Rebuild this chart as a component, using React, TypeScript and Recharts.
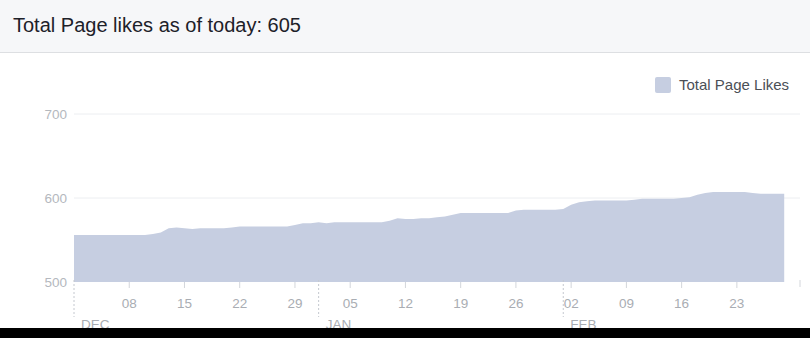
import React from 'react';
import { AreaChart, Area, XAxis, YAxis, CartesianGrid, Legend } from 'recharts';

// daily total page likes, Dec 1 .. Mar 1 (day 0 = Dec 1)
const likes = [
  556, 556, 556, 556, 556, 556, 556, 556, 556, 556,
  557, 559, 564, 565, 564, 563, 564, 564, 564, 564,
  565, 566, 566, 566, 566, 566, 566, 566, 568, 570,
  570, 571, 570, 571, 571, 571, 571, 571, 571, 571,
  573, 576, 575, 575, 576, 576, 577, 578, 580, 582,
  582, 582, 582, 582, 582, 582, 585, 586, 586, 586,
  586, 586, 587, 592, 595, 596, 597, 597, 597, 597,
  597, 598, 599, 599, 599, 599, 599, 600, 601, 604,
  606, 607, 607, 607, 607, 607, 606, 605, 605, 605,
  605,
];

const weekTickDays = [7, 14, 21, 28, 35, 42, 49, 56, 63, 70, 77, 84];
const weekTickLabels = ['08', '15', '22', '29', '05', '12', '19', '26', '02', '09', '16', '23'];
const monthStartDays = [0, 31, 62];
const monthLabels = ['DEC', 'JAN', 'FEB'];
const axisEndDay = 92;
const yTicks = [500, 600, 700];
const gridValues = [600, 700];

const seriesName = 'Total Page Likes';
const title = 'Total Page likes as of today: 605';

const FILL = '#c6cee1';
const FONT = '"Liberation Sans", Arial, sans-serif';

const data = likes.map((v, i) => ({ day: i, likes: v }));
const xTicks = [...monthStartDays, ...weekTickDays, axisEndDay].sort((a, b) => a - b);

const DateTick = (props: any) => {
  const { x, y, payload } = props;
  const day = payload.value;
  const m = monthStartDays.indexOf(day);
  if (m >= 0) {
    return (
      <g>
        <line x1={x} x2={x} y1={y - 2} y2={y + 35} stroke="#c4c8cf" strokeDasharray="2 2" />
        <text x={x + 7} y={y + 47} fill="#a9adb3" fontSize={13.5} fontFamily={FONT}>
          {monthLabels[m]}
        </text>
      </g>
    );
  }
  if (day === axisEndDay) {
    return <line x1={x} x2={x} y1={y - 2} y2={y + 5} stroke="#d3d6db" />;
  }
  const w = weekTickDays.indexOf(day);
  return (
    <g>
      <line x1={x} x2={x} y1={y} y2={y + 6} stroke="#d3d6db" />
      <text x={x} y={y + 26} textAnchor="middle" fill="#a9adb3" fontSize={13.5} fontFamily={FONT}>
        {weekTickLabels[w]}
      </text>
    </g>
  );
};

const LegendBox = () => (
  <div style={{ display: 'flex', alignItems: 'center', fontFamily: FONT, fontSize: 15, color: '#4b4f56' }}>
    <span style={{ display: 'inline-block', width: 16, height: 16, background: FILL, borderRadius: 2, marginRight: 8 }} />
    {seriesName}
  </div>
);

export default function App() {
  return (
    <div style={{ position: 'relative', width: 810, height: 338, overflow: 'hidden', background: '#fff' }}>
      <style>{'body{margin:0}'}</style>
      <div
        style={{
          position: 'absolute', top: 0, left: 0, width: 810, height: 52,
          background: '#f6f7f9', borderBottom: '1px solid #dddfe2',
        }}
      >
        <div style={{ position: 'absolute', top: 14, left: 13, fontFamily: FONT, fontSize: 20, color: '#1d2129', whiteSpace: 'nowrap' }}>
          {title}
        </div>
      </div>
      <div style={{ position: 'absolute', top: 53, left: 0 }}>
        <AreaChart width={810} height={275} data={data} margin={{ top: 61, right: 10, bottom: 0, left: 0 }}>
          <CartesianGrid vertical={false} stroke="#eceef1" horizontalValues={gridValues} />
          <XAxis
            type="number"
            dataKey="day"
            domain={[0, axisEndDay]}
            ticks={xTicks}
            interval={0}
            axisLine={false}
            tickLine={false}
            tickSize={0}
            tickMargin={0}
            height={46}
            tick={<DateTick />}
          />
          <YAxis
            domain={[500, 700]}
            ticks={yTicks}
            width={74}
            axisLine={false}
            tickLine={false}
            tickSize={0}
            tickMargin={7}
            tick={{ fill: '#b4b8be', fontSize: 13.5, fontFamily: FONT }}
          />
          <Legend
            layout="vertical"
            align="center"
            verticalAlign="middle"
            content={<LegendBox />}
            wrapperStyle={{ top: 23, left: 655, width: 150, right: 'auto', bottom: 'auto' }}
          />
          <Area
            type="linear"
            dataKey="likes"
            name={seriesName}
            stroke="none"
            fill={FILL}
            fillOpacity={1}
            isAnimationActive={false}
          />
        </AreaChart>
      </div>
      <div style={{ position: 'absolute', top: 328, left: 0, width: 810, height: 10, background: '#000' }} />
    </div>
  );
}
